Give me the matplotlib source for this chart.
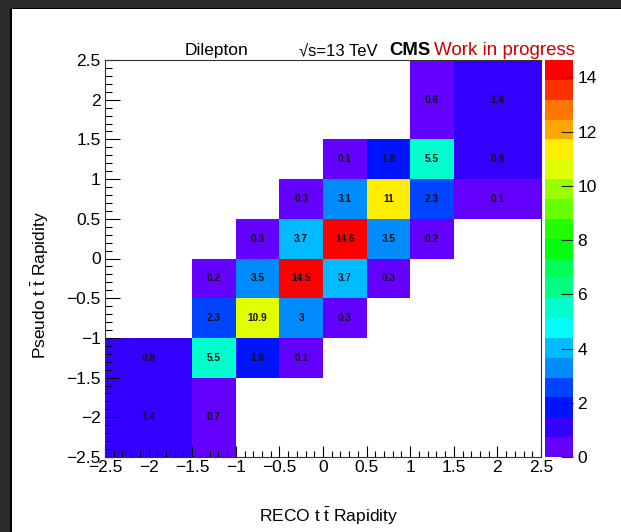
import numpy as np
import matplotlib
matplotlib.use("Agg")
import matplotlib.pyplot as plt
import colorsys
from matplotlib.colors import ListedColormap, BoundaryNorm
from matplotlib.patches import Rectangle
from matplotlib.ticker import MultipleLocator, FuncFormatter

plt.rcParams['font.family'] = ['Liberation Sans', 'DejaVu Sans']
plt.rcParams['mathtext.fontset'] = 'custom'
plt.rcParams['mathtext.rm'] = 'Liberation Sans'
plt.rcParams['mathtext.it'] = 'Liberation Sans:italic'
plt.rcParams['mathtext.bf'] = 'Liberation Sans:bold'

# bin edges (same for both axes)
edges = [-2.5, -1.5, -1.0, -0.5, 0.0, 0.5, 1.0, 1.5, 2.5]

# cell values: rows = pseudo (y) bins from bottom to top, cols = reco (x) bins left to right
row_y0 = [1.4, 0.7, 0, 0, 0, 0, 0, 0]
row_y1 = [0.8, 5.5, 1.8, 0.1, 0, 0, 0, 0]
row_y2 = [0, 2.3, 10.9, 3, 0.3, 0, 0, 0]
row_y3 = [0, 0.2, 3.5, 14.5, 3.7, 0.3, 0, 0]
row_y4 = [0, 0, 0.3, 3.7, 14.6, 3.5, 0.2, 0]
row_y5 = [0, 0, 0, 0.3, 3.1, 11, 2.3, 0.1]
row_y6 = [0, 0, 0, 0, 0.1, 1.8, 5.5, 0.8]
row_y7 = [0, 0, 0, 0, 0, 0, 0.6, 1.4]

zmax = 14.64
ncont = 20

values = np.array([row_y0, row_y1, row_y2, row_y3, row_y4, row_y5, row_y6, row_y7], dtype=float)

# ROOT "pretty" rainbow palette (50 colours), sampled at 20 contours
def root_palette_color(j):
    idx = int((j + 0.99) * 50 / ncont)
    hue = 280 - (idx + 1) * 5.6
    hue = max(hue, 0)
    r, g, b = colorsys.hls_to_rgb(hue / 360.0, 0.5, 1.0)
    return (r, g, b)

colors = [root_palette_color(j) for j in range(ncont)]
cmap = ListedColormap(colors)
levels = np.linspace(0, zmax, ncont + 1)
norm = BoundaryNorm(levels, cmap.N, clip=True)

W, H = 621, 532
fig = plt.figure(figsize=(W / 100, H / 100), dpi=100)
fig.patch.set_facecolor('white')

# dark window frame at top and left
fig.patches.append(Rectangle((0, 1 - 8 / H), 1, 8 / H, transform=fig.transFigure,
                             facecolor='#2b2b2b', edgecolor='none', zorder=-1))
fig.patches.append(Rectangle((0, 0), 10 / W, 1, transform=fig.transFigure,
                             facecolor='#2b2b2b', edgecolor='none', zorder=-1))
fig.patches.append(Rectangle((10 / W, 0), 1.5 / W, 1 - 8 / H, transform=fig.transFigure,
                             facecolor='black', edgecolor='none', zorder=-1))
fig.patches.append(Rectangle((10 / W, 1 - 9 / H), 1 - 10 / W, 1.2 / H, transform=fig.transFigure,
                             facecolor='black', edgecolor='none', zorder=-1))

x0, x1, yt, yb = 105, 541, 60, 457
ax = fig.add_axes([x0 / W, (H - yb) / H, (x1 - x0) / W, (yb - yt) / H])

masked = np.ma.masked_where(values <= 0, values)
ax.pcolormesh(edges, edges, masked, cmap=cmap, norm=norm)

centers = [(edges[i] + edges[i + 1]) / 2 for i in range(len(edges) - 1)]
for iy in range(values.shape[0]):
    for ix in range(values.shape[1]):
        v = values[iy, ix]
        if v > 0:
            ax.text(centers[ix], centers[iy], '%g' % v, ha='center', va='center',
                    fontsize=7.3, fontweight='bold', color='#111111')

ax.set_xlim(-2.5, 2.5)
ax.set_ylim(-2.5, 2.5)
fmt = FuncFormatter(lambda v, p: ('%g' % v).replace('-', '\u2212'))
ax.xaxis.set_major_locator(MultipleLocator(0.5))
ax.xaxis.set_minor_locator(MultipleLocator(0.1))
ax.yaxis.set_major_locator(MultipleLocator(0.5))
ax.yaxis.set_minor_locator(MultipleLocator(0.1))
ax.xaxis.set_major_formatter(fmt)
ax.yaxis.set_major_formatter(fmt)
ax.tick_params(axis='x', which='major', direction='in', length=8, width=0.8, labelsize=12.5, pad=2)
ax.tick_params(axis='x', which='minor', direction='in', length=4, width=0.8)
ax.tick_params(axis='y', which='major', direction='in', length=11, width=0.8, labelsize=12.5, pad=3)
ax.tick_params(axis='y', which='minor', direction='in', length=5, width=0.8)
for s in ax.spines.values():
    s.set_linewidth(0.8)
    s.set_color('#333333')

fig.text(329 / W, 1 - 516 / H, r'RECO t $\bar{\mathrm{t}}$ Rapidity', ha='center', va='center', fontsize=12.5)
fig.text(40 / W, 1 - 285 / H, r'Pseudo t $\bar{\mathrm{t}}$ Rapidity', ha='center', va='center', fontsize=12.5,
         rotation=90)

# header texts
base = 1 - 55 / H
fig.text(185 / W, base, 'Dilepton', ha='left', va='baseline', fontsize=12.5)
fig.text(299 / W, base, '\u221as=13 TeV', ha='left', va='baseline', fontsize=12)
fig.text(389 / W, base, 'CMS', ha='left', va='baseline', fontsize=13.3, fontweight='bold')
fig.text(434 / W, base, 'Work in progress', ha='left', va='baseline', fontsize=13.5, color='#cc0000')

# colour bar
cx0, cx1 = 545, 573
cax = fig.add_axes([cx0 / W, (H - yb) / H, (cx1 - cx0) / W, (yb - yt) / H])
sm = matplotlib.cm.ScalarMappable(norm=norm, cmap=cmap)
cb = fig.colorbar(sm, cax=cax, ticks=[0, 2, 4, 6, 8, 10, 12, 14], spacing='proportional')
cb.outline.set_visible(False)
cax.tick_params(direction='in', length=9, width=0.8, labelsize=12.5, pad=3, color='#222222')
cax.yaxis.set_minor_locator(matplotlib.ticker.NullLocator())

fig.savefig('out.png', dpi=100)
